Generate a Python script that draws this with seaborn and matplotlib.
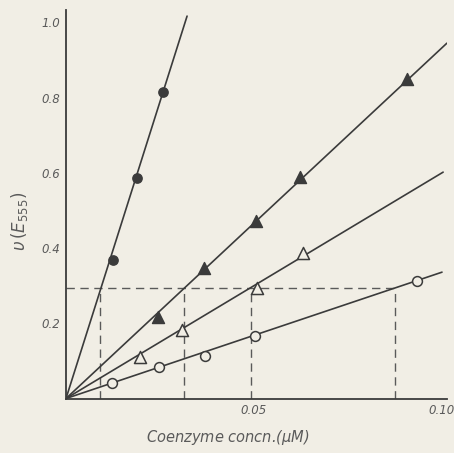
import matplotlib
matplotlib.use("Agg")
import matplotlib.pyplot as plt
import pandas as pd
import seaborn as sns

# ---- data ----
fc_x = [0.0125, 0.0189, 0.0258]            # filled circles
fc_y = [0.368, 0.586, 0.814]
ft_x = [0.0245, 0.0367, 0.0505, 0.0622, 0.0907]   # filled triangles
ft_y = [0.217, 0.347, 0.472, 0.589, 0.851]
ot_x = [0.0197, 0.0309, 0.0508, 0.0630]    # open triangles
ot_y = [0.110, 0.182, 0.294, 0.387]
oc_x = [0.0122, 0.0247, 0.0370, 0.0503, 0.0934]   # open circles
oc_y = [0.041, 0.084, 0.113, 0.166, 0.3125]
line_end_x = [0.0322, 0.1013, 0.1003, 0.1000]     # fitted lines from origin
line_end_y = [1.017, 0.945, 0.602, 0.336]
ref_level = 0.294
ref_x = [0.0090, 0.0314, 0.0492, 0.0875]

x_ticks = [0.05, 0.10]
x_ticklabels = ["0.05", "0.10"]
y_ticks = [0.2, 0.4, 0.6, 0.8, 1.0]
y_ticklabels = ["0.2", "0.4", "0.6", "0.8", "1.0"]

BG = "#f1eee5"
INK = "#3b3b3b"
GREY = "#5a5a5a"

sns.set_theme(style="white")
plt.rcParams["font.family"] = ["DejaVu Sans"]

fig = plt.figure(figsize=(4.54, 4.53), dpi=100, facecolor=BG)
W, H = 454, 453
ax = fig.add_axes([66 / W, (H - 398.5) / H, (447 - 66) / W, (398.5 - 10) / H])
ax.set_facecolor(BG)

# fitted lines
for xe, ye in zip(line_end_x, line_end_y):
    df = pd.DataFrame({"x": [0.0, xe], "y": [0.0, ye]})
    sns.lineplot(data=df, x="x", y="y", ax=ax, color=INK, lw=1.2,
                 estimator=None, sort=False, zorder=2)

# dashed reference lines
dash = dict(color=GREY, lw=1.0, ls=(0, (6, 4)), zorder=1)
hdf = pd.DataFrame({"x": [0.0, max(ref_x)], "y": [ref_level, ref_level]})
sns.lineplot(data=hdf, x="x", y="y", ax=ax, estimator=None, sort=False, **dash)
for rx in ref_x:
    vdf = pd.DataFrame({"x": [rx, rx], "y": [0.0, ref_level]})
    sns.lineplot(data=vdf, x="x", y="y", ax=ax, estimator=None, sort=False, **dash)

# markers
sns.scatterplot(x=fc_x, y=fc_y, ax=ax, marker="o", s=45, color=INK,
                edgecolor=INK, linewidth=1.0, zorder=3)
sns.scatterplot(x=ft_x, y=ft_y, ax=ax, marker="^", s=75, color=INK,
                edgecolor=INK, linewidth=1.0, zorder=3)
sns.scatterplot(x=ot_x, y=ot_y, ax=ax, marker="^", s=75, color=BG,
                edgecolor=INK, linewidth=1.1, zorder=3)
sns.scatterplot(x=oc_x, y=oc_y, ax=ax, marker="o", s=50, color=BG,
                edgecolor=INK, linewidth=1.1, zorder=3)

ax.set_xlim(0, (447 - 66) / 3760)
ax.set_ylim(0, (398.5 - 10) / 376)

sns.despine(ax=ax, top=True, right=True)
for sp in ("left", "bottom"):
    ax.spines[sp].set_color(INK)
    ax.spines[sp].set_linewidth(1.3)

ax.set_xticks(x_ticks)
ax.set_xticklabels(x_ticklabels, fontstyle="italic", color=GREY, fontsize=8.5)
ax.set_yticks(y_ticks)
ax.set_yticklabels(y_ticklabels, fontstyle="italic", color=GREY, fontsize=8.5)
ax.tick_params(axis="both", direction="in", length=7, width=1.2, color=INK, pad=4)

ax.set_xlabel("Coenzyme concn.($\\mu$M)", fontstyle="italic", color=GREY, fontsize=10.5)
ax.xaxis.set_label_coords((228 - 66) / 381, -29 / 388)
ax.set_ylabel("$\\upsilon\\,(E_{555})$", color=GREY, fontsize=12)
ax.yaxis.set_label_coords(-36 / 381, (398.5 - 222) / 388)

fig.savefig("out.png", dpi=100, facecolor=BG)
